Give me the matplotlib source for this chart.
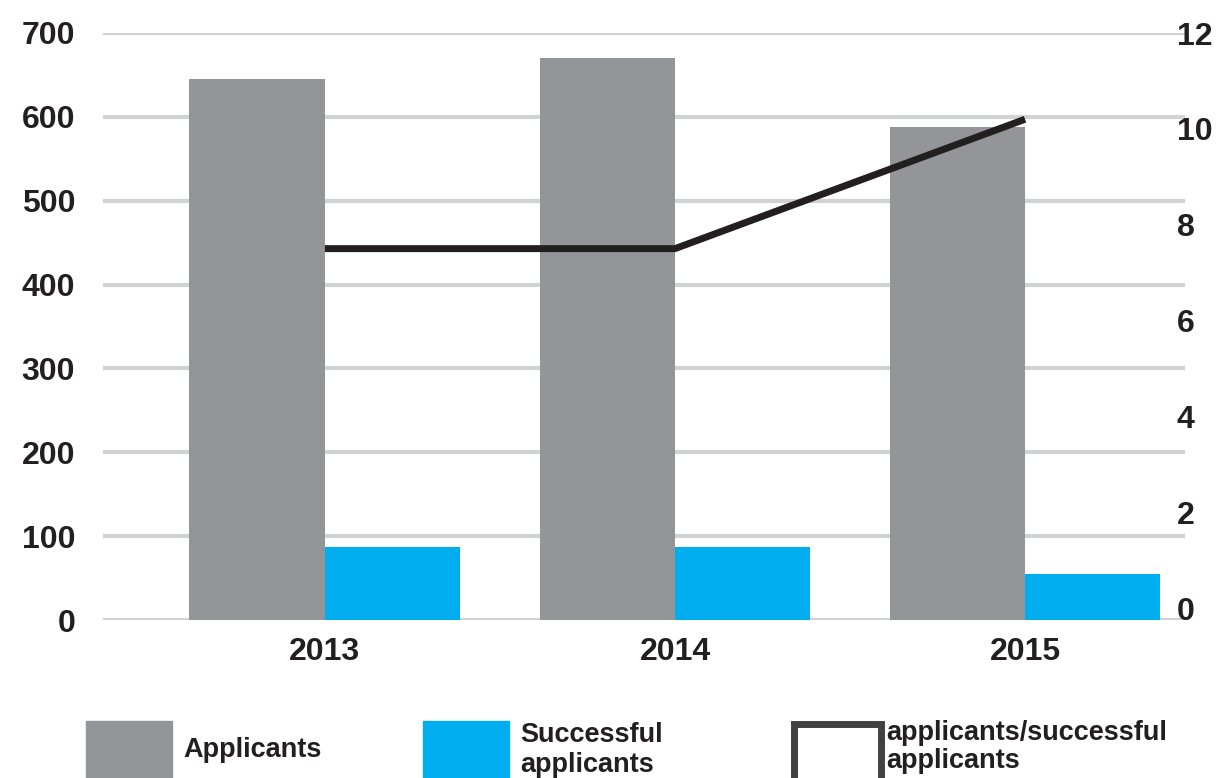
import matplotlib.pyplot as plt
from matplotlib.patches import Rectangle
import numpy as np

years = ["2013", "2014", "2015"]
applicants = [645, 670, 588]
successful = [87, 87, 55]
ratio = [7.5, 7.5, 10.2]

plt.rcParams['font.family'] = ['Liberation Sans', 'DejaVu Sans']
plt.rcParams['font.weight'] = 'bold'
txt = '#231f20'

fig = plt.figure(figsize=(12.19, 7.78), dpi=100)
ax = fig.add_axes([103/1219, 158/778, (1185-103)/1219, (620-33)/778])
x = np.arange(len(years))
w = 0.387

ax.bar(x - w/2, applicants, w, color='#939598', zorder=2)
ax.bar(x + w/2, successful, w, color='#00aeef', zorder=2)
ax.set_ylim(0, 700)
ax.set_yticks(range(0, 701, 100))
ax.set_xlim(-0.634, 2.457)
ax.set_xticks(x)
ax.set_xticklabels(years)
ax.grid(axis='y', color='#d1d2d4', linewidth=3, zorder=0)
ax.set_axisbelow(True)
for s in ax.spines.values():
    s.set_visible(False)
ax.tick_params(axis='both', length=0, labelsize=23, labelcolor=txt)
ax.tick_params(axis='y', pad=20)
ax.tick_params(axis='x', pad=12)

ax2 = ax.twinx()
ax2.plot(x, ratio, color='#231f20', linewidth=5, zorder=3, solid_capstyle='butt')
ax2.set_ylim(-0.25, 12)
ax2.set_yticks(range(0, 13, 2))
for s in ax2.spines.values():
    s.set_visible(False)
ax2.tick_params(axis='y', length=0, labelsize=23, labelcolor=txt, pad=-6)

# legend drawn at the bottom (clipped by figure edge like the original)
def fx(px):
    return px / 1219
def fy(py):
    return 1 - py / 778

fig.add_artist(Rectangle((fx(86), fy(790)), fx(172) - fx(86), fy(721) - fy(790),
                         transform=fig.transFigure, color='#939598'))
fig.add_artist(Rectangle((fx(423), fy(790)), fx(509) - fx(423), fy(721) - fy(790),
                         transform=fig.transFigure, color='#00aeef'))
fig.add_artist(Rectangle((fx(794), fy(790)), fx(881) - fx(794), fy(724) - fy(790),
                         transform=fig.transFigure, facecolor='white',
                         edgecolor='#414042', linewidth=5))

lab_kw = dict(fontsize=19.5, color=txt, fontweight='bold', va='center', ha='left',
              family=['Liberation Sans Narrow', 'Liberation Sans', 'DejaVu Sans'],
              linespacing=1.15)
fig.text(fx(183), fy(750), "Applicants", **lab_kw)
fig.text(fx(520), fy(750), "Successful\napplicants", **lab_kw)
fig.text(fx(886), fy(747), "applicants/successful\napplicants", **lab_kw)

fig.savefig('out.png', dpi=100)
